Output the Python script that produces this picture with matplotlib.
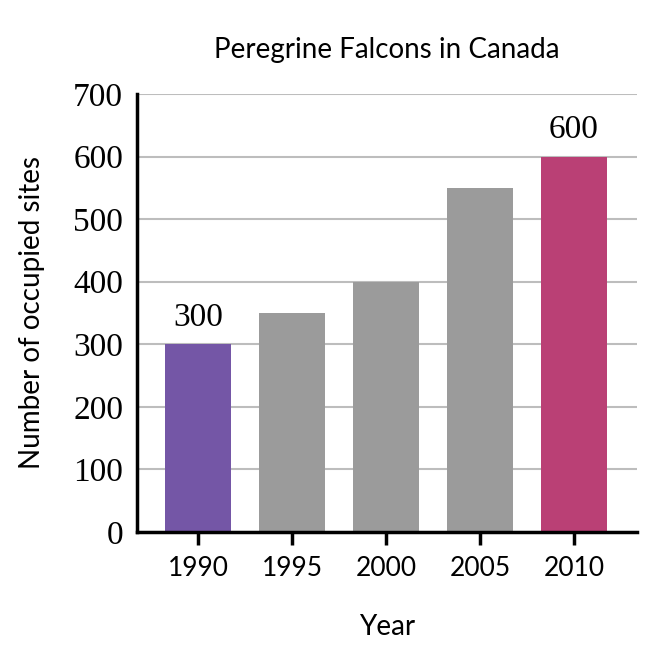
import matplotlib.pyplot as plt

years = ['1990', '1995', '2000', '2005', '2010']
sites = [300, 350, 400, 550, 600]
bar_colors = ['#7456a6', '#9b9b9b', '#9b9b9b', '#9b9b9b', '#ba4075']
labeled = [0, 4]  # bars with value labels on top
y_ticks = [0, 100, 200, 300, 400, 500, 600, 700]

serif = 'Liberation Serif'
sans = 'Lato'

fig = plt.figure(figsize=(6.7, 6.5), dpi=100)
ax = fig.add_axes([0.2045, 0.1815, 0.746, 0.674])

x = list(range(len(years)))
ax.bar(x, sites, width=0.7, color=bar_colors, zorder=2)

for i in labeled:
    ax.annotate(str(sites[i]), (x[i], sites[i]), xytext=(0, 8),
                textcoords='offset points', ha='center', va='bottom',
                fontsize=24, family=serif)

ax.set_xlim(-0.65, 4.67)
ax.set_ylim(0, 700)
ax.set_yticks(y_ticks)
ax.set_yticklabels([str(v) for v in y_ticks], family=serif, fontsize=24)
ax.set_xticks(x)
ax.set_xticklabels(years, family=sans, fontsize=19)

ax.grid(axis='y', color='#bdbdbd', linewidth=1.5, zorder=0)
ax.set_axisbelow(True)

for side in ['top', 'right']:
    ax.spines[side].set_visible(False)
for side in ['left', 'bottom']:
    ax.spines[side].set_linewidth(2.5)
    ax.spines[side].set_color('black')

ax.tick_params(axis='y', length=0, pad=10)
ax.tick_params(axis='x', length=9, width=2.5, direction='out', pad=8)

ax.set_title('Peregrine Falcons in Canada', family=sans, fontsize=20, pad=26)
ax.set_xlabel('Year', family=sans, fontsize=20, labelpad=24)
ax.set_ylabel('Number of occupied sites', family=sans, fontsize=20, labelpad=20)

fig.savefig('out.png', dpi=100)
